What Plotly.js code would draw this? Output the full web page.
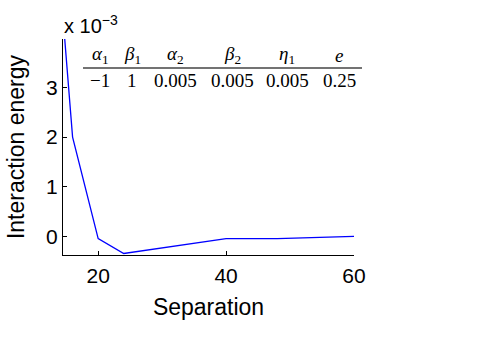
<!DOCTYPE html>
<html>
<head>
<meta charset="utf-8">
<script src="https://cdn.plot.ly/plotly-3.0.1.min.js"></script>
<style>
  html, body { margin: 0; padding: 0; background: #fff; }
  #chart { width: 491px; height: 347px; }
</style>
</head>
<body>
<div id="chart"></div>
<script>
"use strict";

/******** data (energy in units of 1e-3) ********/
var separation = [14, 16, 20, 24, 40, 48, 60];
var energy = [5.2, 2.0, -0.04, -0.34, -0.04, -0.04, 0.005];

var yTicks = [0, 1, 2, 3];
var xTicks = [20, 40, 60];

/******** parameter table ********/
var paramNames = ['<i>α</i><sub>1</sub>', '<i>β</i><sub>1</sub>', '<i>α</i><sub>2</sub>',
                  '<i>β</i><sub>2</sub>', '<i>η</i><sub>1</sub>', '<i>e</i>'];
var paramValues = ['−1', '1', '0.005', '0.005', '0.005', '0.25'];

/* plot box in pixels, used to place the table */
var L = 63, R = 354, T = 39, B = 255;
function px(x) { return (x - L) / (R - L); }
function py(y) { return (B - y) / (B - T); }

var colX = [100, 132, 175, 232, 287, 339];   /****** column centres ******/

var annotations = [];
for (var i = 0; i < paramNames.length; i++) {
  annotations.push({
    xref: 'paper', yref: 'paper', x: px(colX[i]), y: py(55),
    text: paramNames[i], showarrow: false, xanchor: 'center', yanchor: 'middle',
    font: {family: 'Liberation Serif, DejaVu Serif, serif', size: 19, color: '#000'}
  });
  annotations.push({
    xref: 'paper', yref: 'paper', x: px(colX[i]), y: py(80),
    text: paramValues[i], showarrow: false, xanchor: 'center', yanchor: 'middle',
    font: {family: 'Liberation Serif, DejaVu Serif, serif', size: 19, color: '#000'}
  });
}

/* exponent label */
annotations.push({
  xref: 'paper', yref: 'paper', x: px(62), y: py(24),
  text: 'x 10<sup>−3</sup>', showarrow: false, xanchor: 'left', yanchor: 'middle',
  font: {family: 'Liberation Sans, Arial, sans-serif', size: 20, color: '#000'}
});

var data = [
  {
    x: separation,
    y: energy,
    type: 'scatter',
    mode: 'lines',
    line: {color: 'rgb(0,0,255)', width: 1.3},
    hoverinfo: 'skip'
  }
];

var layout = {
  width: 491,
  height: 347,
  margin: {l: L, r: 491 - R, t: T, b: 347 - B},
  paper_bgcolor: '#fff',
  plot_bgcolor: '#fff',
  showlegend: false,
  font: {family: 'Liberation Sans, Arial, sans-serif', size: 21, color: '#000'},
  xaxis: {
    range: [14.5, 60],
    tickvals: xTicks,
    ticks: 'inside', ticklen: 4, tickwidth: 1, tickcolor: '#000',
    ticklabelstandoff: 2,
    showline: true, linecolor: '#000', linewidth: 1,
    showgrid: false, zeroline: false,
    title: {text: 'Separation', font: {size: 23}, standoff: 12}
  },
  yaxis: {
    range: [-0.37, 3.97],
    tickvals: yTicks,
    ticks: 'inside', ticklen: 4, tickwidth: 1, tickcolor: '#000',
    showline: true, linecolor: '#000', linewidth: 1,
    showgrid: false, zeroline: false,
    title: {text: 'Interaction energy', font: {size: 23}, standoff: 15}
  },
  shapes: [
    {type: 'line', xref: 'paper', yref: 'paper',
     x0: px(83), x1: px(362), y0: py(68), y1: py(68),
     line: {color: '#444', width: 1.5}}
  ],
  annotations: annotations
};

Plotly.newPlot('chart', data, layout, {displayModeBar: false, staticPlot: true});
</script>
</body>
</html>
